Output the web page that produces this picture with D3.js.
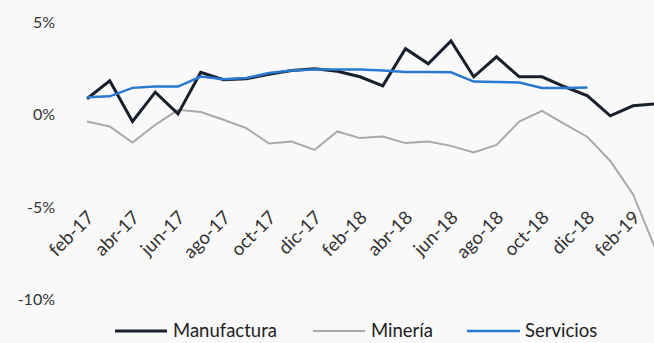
<!DOCTYPE html>
<html>
<head>
<meta charset="utf-8">
<script src="https://cdn.jsdelivr.net/npm/d3@7"></script>
<style>
  html, body { margin: 0; padding: 0; background: #f9f9f9; }
  svg { display: block; font-family: Lato, "Open Sans", sans-serif; }
</style>
</head>
<body>
<svg id="chart" width="654" height="343"></svg>
<script>
// Monthly categories, feb-2017 to mar-2019
const months = ["feb-17","mar-17","abr-17","may-17","jun-17","jul-17","ago-17","sep-17","oct-17","nov-17","dic-17",
  "ene-18","feb-18","mar-18","abr-18","may-18","jun-18","jul-18","ago-18","sep-18","oct-18","nov-18","dic-18",
  "ene-19","feb-19","mar-19"];

// Year-on-year growth (%) by sector
const manufactura = [0.87, 1.84, -0.36, 1.23, 0.05, 2.3, 1.9, 1.95, 2.2, 2.4, 2.5, 2.36, 2.06, 1.57, 3.58, 2.76,
  4.0, 2.06, 3.14, 2.06, 2.06, 1.52, 1.03, -0.05, 0.49, 0.6];
const mineria = [-0.36, -0.63, -1.5, -0.54, 0.27, 0.15, -0.27, -0.72, -1.55, -1.45, -1.9, -0.9, -1.26, -1.17, -1.53,
  -1.45, -1.68, -2.04, -1.63, -0.36, 0.22, -0.5, -1.2, -2.5, -4.3, -7.3];
const servicios = [0.95, 1.0, 1.46, 1.53, 1.53, 2.07, 1.93, 1.99, 2.26, 2.4, 2.45, 2.45, 2.45, 2.4, 2.32, 2.32,
  2.3, 1.8, 1.78, 1.75, 1.45, 1.45, 1.48];

const yTicks = [-10, -5, 0, 5];
const xTickLabels = ["feb-17","abr-17","jun-17","ago-17","oct-17","dic-17","feb-18","abr-18","jun-18","ago-18",
  "oct-18","dic-18","feb-19"];

const seriesList = [
  { name: "Manufactura", values: manufactura, color: "#18202d", width: 3 },
  { name: "Minería", values: mineria, color: "#a9a9a9", width: 2 },
  { name: "Servicios", values: servicios, color: "#2a78cf", width: 2.5 }
];

const svg = d3.select("#chart");

const x = d3.scalePoint().domain(months).range([87, 87 + 22.75 * (months.length - 1)]);
const y = d3.scaleLinear().domain([-10, 5]).range([299.5, 22.5]);

// Y axis: labels only
const yAxis = svg.append("g")
  .attr("transform", "translate(55,0)")
  .call(d3.axisLeft(y).tickValues(yTicks).tickFormat(d => d + "%").tickSize(0).tickPadding(0));
yAxis.select(".domain").remove();
yAxis.selectAll("text")
  .attr("fill", "#333")
  .style("font-size", "16px")
  .style("font-family", "Lato, 'Open Sans', sans-serif");

// X axis: rotated month labels every two months
const xAxis = svg.append("g")
  .attr("transform", `translate(0,${y(-5)})`)
  .call(d3.axisBottom(x).tickValues(xTickLabels).tickSize(0));
xAxis.select(".domain").remove();
xAxis.selectAll("text")
  .attr("fill", "#333")
  .style("font-size", "18.5px")
  .style("font-family", "Lato, 'Open Sans', sans-serif")
  .attr("text-anchor", "end")
  .attr("x", 0).attr("y", 0)
  .attr("transform", "translate(3,7) rotate(-45)")
  .attr("dy", "0.35em");

// Lines
const line = d3.line()
  .x((d, i) => x(months[i]))
  .y(d => y(d));

svg.append("g").selectAll("path")
  .data([seriesList[1], seriesList[0], seriesList[2]])
  .join("path")
  .attr("d", s => line(s.values))
  .attr("fill", "none")
  .attr("stroke", s => s.color)
  .attr("stroke-width", s => s.width)
  .attr("stroke-linejoin", "miter")
  .attr("stroke-linecap", "butt");

// Legend
const legendPos = [
  { x1: 115, x2: 167, tx: 173 },
  { x1: 313, x2: 365, tx: 371 },
  { x1: 467, x2: 520, tx: 525 }
];
const legendY = 331;
const legend = svg.append("g").selectAll("g")
  .data(seriesList)
  .join("g");
legend.append("line")
  .attr("x1", (d, i) => legendPos[i].x1)
  .attr("x2", (d, i) => legendPos[i].x2)
  .attr("y1", legendY).attr("y2", legendY)
  .attr("stroke", d => d.color)
  .attr("stroke-width", d => d.width);
legend.append("text")
  .attr("x", (d, i) => legendPos[i].tx)
  .attr("y", legendY)
  .attr("dy", "0.35em")
  .attr("fill", "#222")
  .style("font-size", "18.5px")
  .text(d => d.name);
</script>
</body>
</html>
